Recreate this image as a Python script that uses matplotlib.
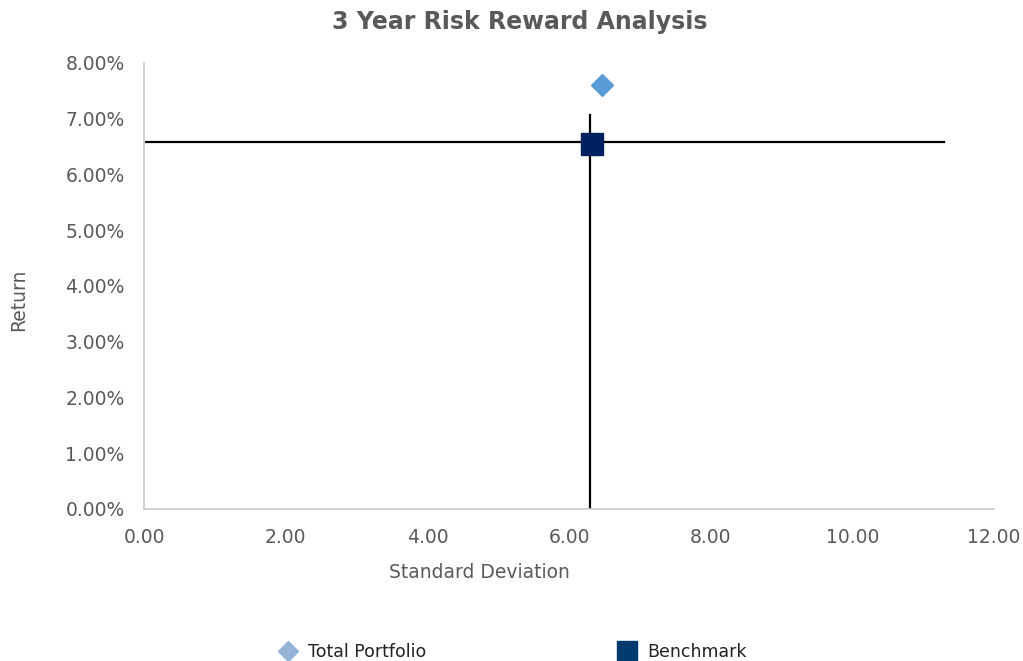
import matplotlib
matplotlib.use("Agg")
import matplotlib.pyplot as plt
from matplotlib.lines import Line2D
from matplotlib.ticker import FuncFormatter

# risk / reward points (std dev, return %)
portfolio_sd = [6.47]
portfolio_ret = [7.60]
benchmark_sd = [6.33]
benchmark_ret = [6.54]

# crosshair lines
hline_x = [0.03, 11.29]
hline_y = [6.58, 6.58]
vline_x = [6.30, 6.30]
vline_y = [0.0, 7.07]

xticks = [0, 2, 4, 6, 8, 10, 12]
yticks = [0, 1, 2, 3, 4, 5, 6, 7, 8]

plt.rcParams['font.family'] = ['DejaVu Sans']
grey = '#595959'

fig = plt.figure(figsize=(10.23, 6.61), dpi=100)
ax = fig.add_axes([0.1408, 0.2300, 0.8309, 0.6747])

ax.plot(hline_x, hline_y, color='black', lw=1.6, zorder=2)
ax.plot(vline_x, vline_y, color='black', lw=1.6, zorder=2)
ax.plot(portfolio_sd, portfolio_ret, linestyle='none', marker='D', markersize=11,
        color='#5b9bd5', zorder=3)
ax.plot(benchmark_sd, benchmark_ret, linestyle='none', marker='s', markersize=15.5,
        color='#002060', zorder=3)

ax.set_xlim(0, 12)
ax.set_ylim(0, 8)
ax.set_xticks(xticks)
ax.set_yticks(yticks)
ax.xaxis.set_major_formatter(FuncFormatter(lambda v, p: f"{v:.2f}"))
ax.yaxis.set_major_formatter(FuncFormatter(lambda v, p: f"{v:.2f}%"))
ax.tick_params(length=0, labelsize=13.5, labelcolor=grey)
ax.tick_params(axis='y', pad=14)
ax.tick_params(axis='x', pad=14)

for s in ['top', 'right']:
    ax.spines[s].set_visible(False)
for s in ['left', 'bottom']:
    ax.spines[s].set_color('#c8c8c8')
    ax.spines[s].set_linewidth(1.2)

ax.set_xlabel('Standard Deviation', fontsize=13.5, color=grey)
ax.xaxis.set_label_coords(0.394, -0.121)
ax.set_ylabel('Return', fontsize=13.5, color=grey)
ax.yaxis.set_label_coords(-0.136, 0.469)

fig.text(520 / 1023, 1 - 22 / 661, '3 Year Risk Reward Analysis', ha='center', va='center',
         fontsize=17, fontweight='bold', color=grey)

handles = [
    Line2D([], [], linestyle='none', marker='D', markersize=10, color='#95b3d7'),
    Line2D([], [], linestyle='none', marker='s', markersize=15, color='#003b6f'),
]
fig.legend(handles, ['Total Portfolio', 'Benchmark'], loc='center', ncol=2,
           bbox_to_anchor=(511 / 1023, 1 - 652 / 661), frameon=False, fontsize=12.5,
           columnspacing=10.9, handlelength=1.4, handletextpad=0.45, labelcolor='#222222')

fig.savefig('out.png', dpi=100)
